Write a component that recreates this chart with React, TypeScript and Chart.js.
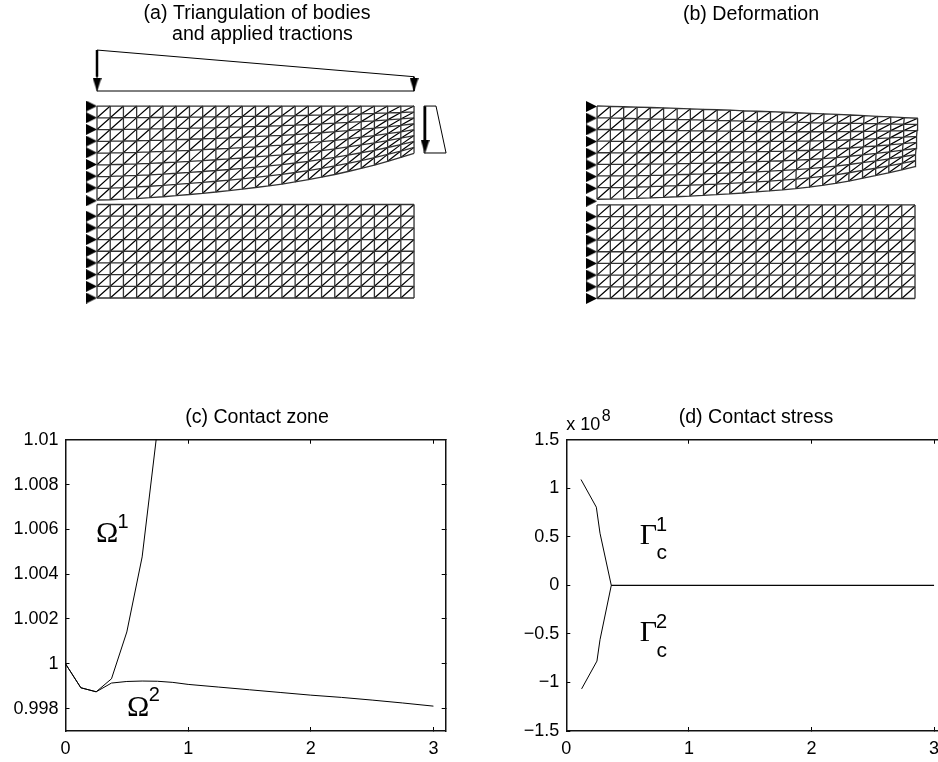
import React, { useEffect, useRef } from "react";
import { Chart, registerables } from "chart.js";

Chart.register(...registerables);

// ---------- mesh data (body coordinates) ----------
const meshColumnX = [0, 0.125, 0.25, 0.375, 0.5, 0.625, 0.75, 0.875, 1, 1.125, 1.25, 1.375, 1.5, 1.625, 1.75, 1.875, 2, 2.125, 2.25, 2.375, 2.5, 2.625, 2.75, 2.875, 3];
const rowFractions = [0, 0.125, 0.25, 0.375, 0.5, 0.625, 0.75, 0.875, 1];
const flatLower0 = [0, 0, 0, 0, 0, 0, 0, 0, 0, 0, 0, 0, 0, 0, 0, 0, 0, 0, 0, 0, 0, 0, 0, 0, 0];
const flatLower1 = [1, 1, 1, 1, 1, 1, 1, 1, 1, 1, 1, 1, 1, 1, 1, 1, 1, 1, 1, 1, 1, 1, 1, 1, 1];
const noShift = [0, 0, 0, 0, 0, 0, 0, 0, 0, 0, 0, 0, 0, 0, 0, 0, 0, 0, 0, 0, 0, 0, 0, 0, 0];
const upperTopA = [2.053, 2.053, 2.053, 2.053, 2.053, 2.053, 2.053, 2.053, 2.053, 2.053, 2.053, 2.053, 2.053, 2.053, 2.053, 2.053, 2.053, 2.053, 2.053, 2.053, 2.053, 2.053, 2.053, 2.053, 2.053];
const upperBottomA = [1.048, 1.051, 1.057, 1.064, 1.073, 1.083, 1.095, 1.107, 1.12, 1.134, 1.148, 1.164, 1.182, 1.2, 1.219, 1.241, 1.265, 1.292, 1.321, 1.353, 1.387, 1.422, 1.462, 1.503, 1.548];
const upperTopB = [2.059, 2.055, 2.05, 2.046, 2.042, 2.037, 2.033, 2.028, 2.023, 2.018, 2.013, 2.007, 2.002, 1.997, 1.991, 1.986, 1.98, 1.974, 1.968, 1.962, 1.955, 1.948, 1.941, 1.934, 1.927];
const upperBottomB = [1.061, 1.062, 1.065, 1.07, 1.075, 1.081, 1.088, 1.095, 1.103, 1.11, 1.119, 1.128, 1.139, 1.15, 1.162, 1.175, 1.19, 1.21, 1.23, 1.256, 1.285, 1.313, 1.344, 1.376, 1.41];
const topShiftB = [0, 0.001, 0.002, 0.003, 0.004, 0.005, 0.006, 0.007, 0.008, 0.009, 0.01, 0.011, 0.012, 0.013, 0.014, 0.015, 0.016, 0.017, 0.018, 0.019, 0.02, 0.021, 0.022, 0.024, 0.026];
const supportY = [2.053, 1.928, 1.803, 1.678, 1.553, 1.428, 1.303, 1.178, 1.04, 0.875, 0.75, 0.625, 0.5, 0.375, 0.25, 0.125, 0];
const supportX = -0.052;

// ---------- applied tractions (a) ----------
const topTractionX = [0, 3, 3, 0, 0];
const topTractionY = [2.652, 2.367, 2.214, 2.214, 2.652];
const topArrowX = [0, 0];
const topArrowY = [2.652, 2.367];
const topHeadX = [0, 3];
const topHeadY = [2.283, 2.283];
const sideTractionX = [3.095, 3.208, 3.303, 3.095, 3.095];
const sideTractionY = [2.053, 2.053, 1.551, 1.551, 2.053];
const sideArrowX = [3.104, 3.104];
const sideArrowY = [2.05, 1.69];
const sideHeadX = [3.104];
const sideHeadY = [1.62];

// ---------- (c) contact zone ----------
const omega1X = [0, 0.125, 0.25, 0.375, 0.5, 0.625, 0.75];
const omega1Y = [1, 0.99893, 0.99875, 0.99933, 1.00142, 1.00477, 1.0105];
const omega2X = [0, 0.125, 0.25, 0.375, 0.5, 0.625, 0.75, 0.875, 1, 1.25, 1.5, 1.75, 2, 2.25, 2.5, 2.75, 3];
const omega2Y = [1, 0.99893, 0.99875, 0.99914, 0.99921, 0.99923, 0.99922, 0.99917, 0.99908, 0.99896, 0.99884, 0.99872, 0.9986, 0.9985, 0.99838, 0.99825, 0.99811];
const xTicks = [0, 1, 2, 3];
const xTickLabels = ["0", "1", "2", "3"];
const cYTicks = [0.998, 1, 1.002, 1.004, 1.006, 1.008, 1.01];
const cYTickLabels = ["0.998", "1", "1.002", "1.004", "1.006", "1.008", "1.01"];

// ---------- (d) contact stress ----------
const gamma1X = [0.12, 0.245, 0.275, 0.367, 3];
const gamma1Y = [1.09e8, 0.805e8, 0.537e8, 0, 0];
const gamma2X = [0.125, 0.25, 0.275, 0.367, 3];
const gamma2Y = [-1.066e8, -0.78e8, -0.56e8, 0, 0];
const dYTicks = [-1.5e8, -1e8, -0.5e8, 0, 0.5e8, 1e8, 1.5e8];
const dYTickLabels = ["\u22121.5", "\u22121", "\u22120.5", "0", "0.5", "1", "1.5"];

const FONT = "'Liberation Sans', Arial, sans-serif";
const SERIF = "'Liberation Serif', 'Times New Roman', serif";

type Note = { text: string; x: number; y: number; font: string; align?: CanvasTextAlign };

const cNotes: Note[] = [
  { text: "\u03A9", x: 0.34, y: 1.00577, font: `30px ${SERIF}` },
  { text: "1", x: 0.47, y: 1.00629, font: `20px ${FONT}` },
  { text: "\u03A9", x: 0.592, y: 0.99803, font: `30px ${SERIF}` },
  { text: "2", x: 0.725, y: 0.99858, font: `20px ${FONT}` },
];
const dNotes: Note[] = [
  { text: "x 10", x: 0, y: 1.65e8, font: `18px ${FONT}`, align: "left" },
  { text: "8", x: 0.325, y: 1.74e8, font: `16px ${FONT}` },
  { text: "\u0393", x: 0.669, y: 0.509e8, font: `30px ${SERIF}` },
  { text: "1", x: 0.778, y: 0.612e8, font: `20px ${FONT}` },
  { text: "c", x: 0.778, y: 0.33e8, font: `21px ${FONT}` },
  { text: "\u0393", x: 0.669, y: -0.495e8, font: `30px ${SERIF}` },
  { text: "2", x: 0.778, y: -0.385e8, font: `20px ${FONT}` },
  { text: "c", x: 0.778, y: -0.674e8, font: `21px ${FONT}` },
];

const notesPlugin = (notes: Note[]) => ({
  id: "notes",
  afterDatasetsDraw(chart: any) {
    const ctx = chart.ctx;
    ctx.save();
    ctx.fillStyle = "#000";
    ctx.textBaseline = "middle";
    for (const n of notes) {
      ctx.font = n.font;
      ctx.textAlign = n.align ?? "center";
      ctx.fillText(n.text, chart.scales.x.getPixelForValue(n.x), chart.scales.y.getPixelForValue(n.y));
    }
    ctx.restore();
  },
});

const zip = (xs: number[], ys: number[]) => xs.map((x, i) => ({ x, y: ys[i] }));

const meshNode = (bottom: number[], top: number[], shift: number[]) => (c: number, f: number) => ({
  x: meshColumnX[c] + shift[c] * f,
  y: bottom[c] + (top[c] - bottom[c]) * f,
});
const GAP = { x: null as any, y: null as any };

function gridPoints(bottom: number[], top: number[], shift: number[]) {
  const node = meshNode(bottom, top, shift);
  const out: any[] = [];
  for (const f of rowFractions) {
    meshColumnX.forEach((_, c) => out.push(node(c, f)));
    out.push(GAP);
  }
  meshColumnX.forEach((_, c) => {
    rowFractions.forEach((f) => out.push(node(c, f)));
    out.push(GAP);
  });
  return out;
}

function diagonalPoints(bottom: number[], top: number[], shift: number[]) {
  const node = meshNode(bottom, top, shift);
  const out: any[] = [];
  for (let r = 0; r < rowFractions.length - 1; r++) {
    for (let c = 0; c < meshColumnX.length - 1; c++) {
      out.push(node(c, rowFractions[r]), node(c + 1, rowFractions[r + 1]), GAP);
    }
  }
  return out;
}

function triangle(w: number, h: number, dir: "right" | "down") {
  const cv = document.createElement("canvas");
  cv.width = w;
  cv.height = h;
  const g = cv.getContext("2d")!;
  g.fillStyle = "#000";
  g.beginPath();
  if (dir === "right") {
    g.moveTo(0, 0);
    g.lineTo(w, h / 2);
    g.lineTo(0, h);
  } else {
    g.moveTo(0, 0);
    g.lineTo(w, 0);
    g.lineTo(w / 2, h);
  }
  g.closePath();
  g.fill();
  return cv;
}

const line = (data: any[], width = 1, color = "#000") => ({
  type: "scatter" as const,
  data,
  showLine: true,
  borderColor: color,
  borderWidth: width,
  pointRadius: 0,
  fill: false,
  tension: 0,
  spanGaps: false,
  clip: false as any,
});

const marks = (data: any[], style: any) => ({
  type: "scatter" as const,
  data,
  showLine: false,
  pointStyle: style,
  pointRadius: 5,
  clip: false as any,
});

const hiddenAxis = (axis: "x" | "y", position: string, min: number, max: number, size: number) => ({
  type: "linear" as const,
  axis,
  position,
  min,
  max,
  grid: { display: false },
  border: { display: false },
  ticks: { display: false },
  afterFit: (s: any) => {
    if (axis === "x") s.height = size;
    else s.width = size;
  },
});

const meshOptions = (
  title: string | string[],
  titlePad: { top: number; bottom: number },
  xr: [number, number],
  margins: { left: number; right: number; bottom: number }
) => ({
  responsive: false,
  maintainAspectRatio: false,
  animation: false as const,
  devicePixelRatio: 1,
  layout: { autoPadding: false, padding: 0 },
  plugins: {
    legend: { display: false },
    tooltip: { enabled: false },
    title: {
      display: true,
      text: title,
      color: "#000",
      padding: titlePad,
      font: { family: FONT, size: 19.6, weight: "normal" as const, lineHeight: 1.1 },
    },
  },
  scales: {
    x: hiddenAxis("x", "bottom", xr[0], xr[1], margins.bottom),
    y: hiddenAxis("y", "left", -0.2, 2.7, margins.left),
    y2: hiddenAxis("y", "right", -0.2, 2.7, margins.right),
  },
});

const TICK = -4;
const framedAxis = (
  axis: "x" | "y",
  position: string,
  min: number,
  max: number,
  size: number,
  ticks: number[],
  labels: string[] | null
) => ({
  type: "linear" as const,
  axis,
  position,
  min,
  max,
  border: { display: true, color: "#111", width: 1.5 },
  grid: { drawOnChartArea: false, drawTicks: true, tickLength: TICK, color: "#000", lineWidth: 1 },
  ticks: {
    display: !!labels,
    color: "#000",
    padding: 11,
    autoSkip: false,
    maxRotation: 0,
    minRotation: 0,
    font: { family: FONT, size: 18 },
    callback: (_: any, i: number) => (labels ? labels[i] : ""),
  },
  afterBuildTicks: (s: any) => {
    s.ticks = ticks.map((value) => ({ value }));
  },
  afterFit: (s: any) => {
    if (axis === "x") s.height = size;
    else s.width = size;
  },
});

const plotOptions = (
  title: string,
  yr: [number, number],
  yTicks: number[],
  yLabels: string[],
  margins: { left: number; right: number }
) => ({
  responsive: false,
  maintainAspectRatio: false,
  animation: false as const,
  devicePixelRatio: 1,
  layout: { autoPadding: false, padding: 0 },
  plugins: {
    legend: { display: false },
    tooltip: { enabled: false },
    title: {
      display: true,
      text: title,
      color: "#000",
      padding: { top: 6, bottom: 10.2 },
      font: { family: FONT, size: 19.6, weight: "normal" as const, lineHeight: 1.2 },
    },
  },
  scales: {
    x: framedAxis("x", "bottom", 0, 3.1, 31, xTicks, xTickLabels),
    x2: framedAxis("x", "top", 0, 3.1, 0, xTicks, null),
    y: framedAxis("y", "left", yr[0], yr[1], margins.left, yTicks, yLabels),
    y2: framedAxis("y", "right", yr[0], yr[1], margins.right, yTicks, null),
  },
});

function useChart(build: () => any) {
  const ref = useRef<HTMLCanvasElement>(null);
  useEffect(() => {
    const chart = new Chart(ref.current!, build());
    return () => chart.destroy();
  }, []);
  return ref;
}

function Panel({ left, top, width, height, build }: any) {
  const ref = useChart(build);
  return <canvas ref={ref} width={width} height={height} style={{ position: "absolute", left, top, width, height }} />;
}

const GRID_W = 1.3;
const GRID_C = "#333";
const DIAG_W = 1.2;
const DIAG_C = "#000";

const buildA = () => {
  const support = triangle(11, 11, "right");
  const head = triangle(9, 14, "down");
  return {
    type: "scatter",
    data: {
      datasets: [
        line(gridPoints(flatLower0, flatLower1, noShift), GRID_W, GRID_C),
        line(gridPoints(upperBottomA, upperTopA, noShift), GRID_W, GRID_C),
        line(diagonalPoints(flatLower0, flatLower1, noShift), DIAG_W, DIAG_C),
        line(diagonalPoints(upperBottomA, upperTopA, noShift), DIAG_W, DIAG_C),
        marks(supportY.map((y) => ({ x: supportX, y })), support),
        line(zip(topTractionX, topTractionY)),
        line(zip(topArrowX, topArrowY), 2.5),
        marks(zip(topHeadX, topHeadY), head),
        line(zip(sideTractionX, sideTractionY)),
        line(zip(sideArrowX, sideArrowY), 2.5),
        marks(zip(sideHeadX, sideHeadY), head),
      ],
    },
    options: meshOptions(
      ["(a) Triangulation of bodies", "  and applied tractions"],
      { top: 2.45, bottom: 0 },
      [-0.2, 3.4],
      { left: 75.87, right: 57.7, bottom: 13.3 }
    ),
  };
};

const buildB = () => {
  const support = triangle(11, 11, "right");
  return {
    type: "scatter",
    data: {
      datasets: [
        line(gridPoints(flatLower0, flatLower1, noShift), GRID_W, GRID_C),
        line(gridPoints(upperBottomB, upperTopB, topShiftB), GRID_W, GRID_C),
        line(diagonalPoints(flatLower0, flatLower1, noShift), DIAG_W, DIAG_C),
        line(diagonalPoints(upperBottomB, upperTopB, topShiftB), DIAG_W, DIAG_C),
        marks(supportY.map((y) => ({ x: supportX, y })), support),
      ],
    },
    options: meshOptions(
      "(b) Deformation",
      { top: 3.4, bottom: 21 },
      [-0.2, 3.2],
      { left: 11.87, right: 1.8, bottom: 12.8 }
    ),
  };
};

const buildC = () => ({
  type: "scatter",
  data: {
    datasets: [
      { ...line(zip(omega1X, omega1Y)), clip: true },
      { ...line(zip(omega2X, omega2Y)), clip: true },
    ],
  },
  options: plotOptions("(c) Contact zone", [0.997, 1.01], cYTicks, cYTickLabels, { left: 65.5, right: 68.3 }),
  plugins: [notesPlugin(cNotes)],
});

const buildD = () => ({
  type: "scatter",
  data: {
    datasets: [line(zip(gamma1X, gamma1Y)), line(zip(gamma2X, gamma2Y))],
  },
  options: plotOptions("(d) Contact stress", [-1.5e8, 1.5e8], dYTicks, dYTickLabels, { left: 56.3, right: 55.7 }),
  plugins: [notesPlugin(dNotes)],
});

export default function App() {
  return (
    <div style={{ position: "fixed", left: 0, top: 0, width: 938, height: 762, overflow: "hidden", background: "#fff" }}>
      <Panel left={0} top={0} width={514} height={330} build={buildA} />
      <Panel left={564} top={0} width={374} height={330} build={buildB} />
      <Panel left={0} top={400} width={514} height={362} build={buildC} />
      <Panel left={510} top={400} width={492} height={362} build={buildD} />
    </div>
  );
}
